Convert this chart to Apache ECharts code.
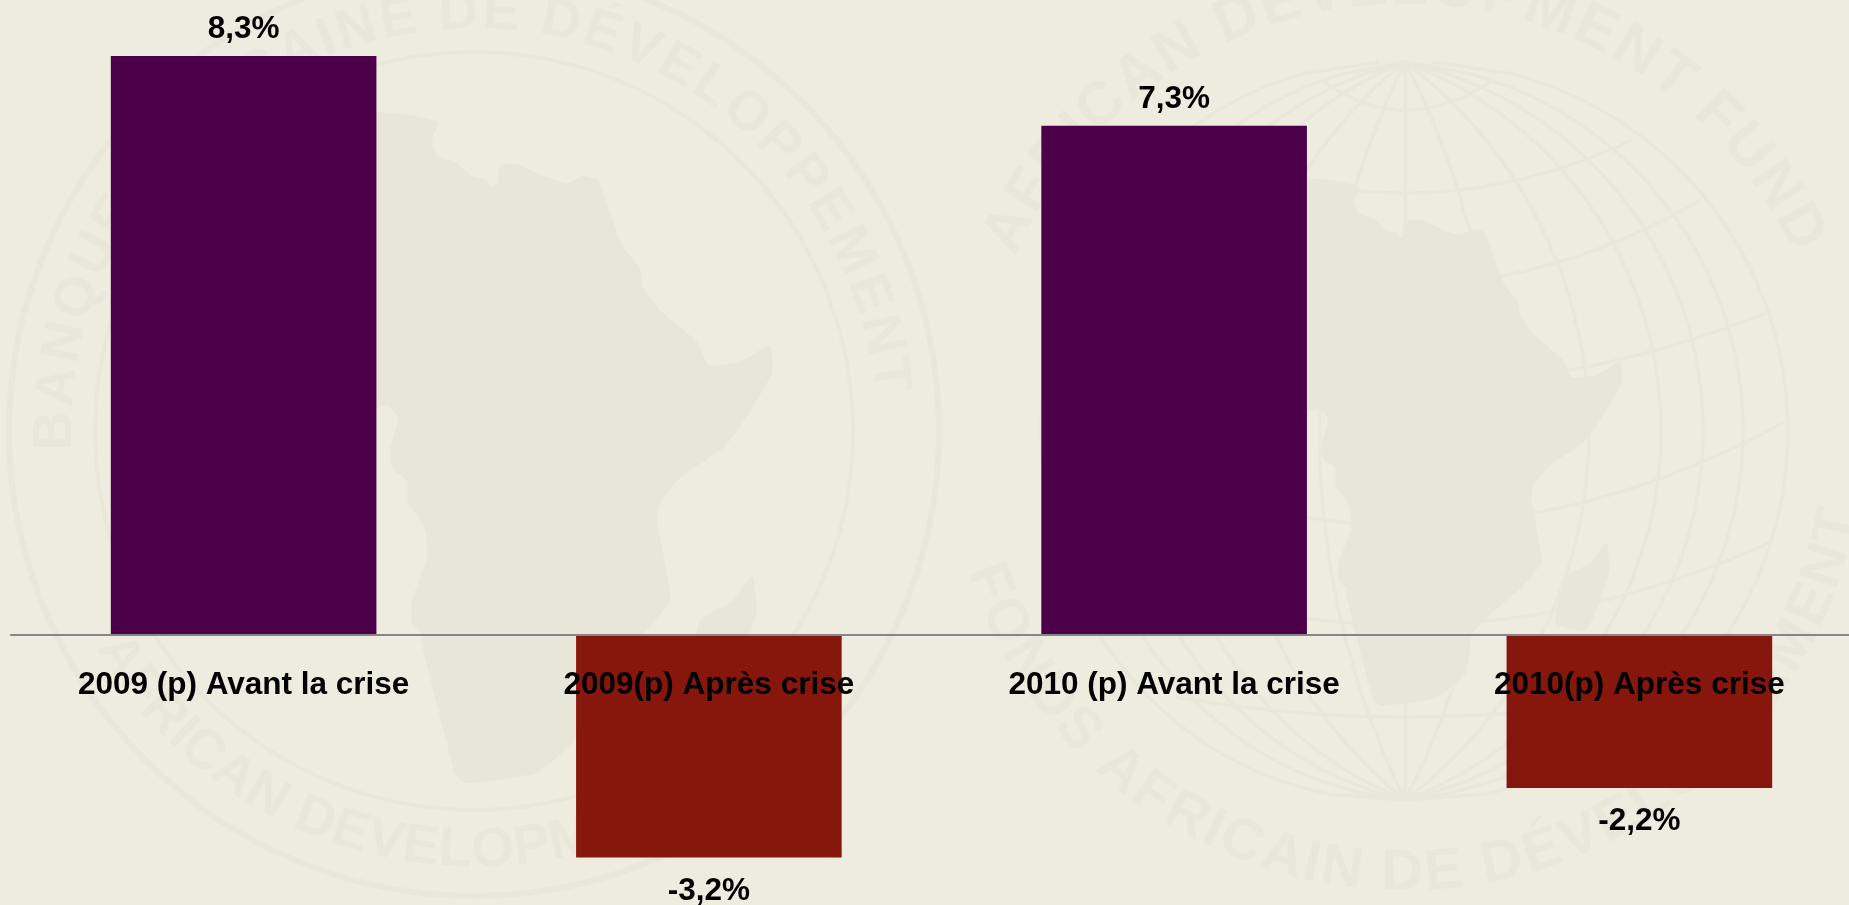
<!DOCTYPE html>
<html lang="fr">
<head>
<meta charset="utf-8">
<title>Croissance 2009-2010</title>
<style>
html, body { margin: 0; padding: 0; background: #EEECDF; overflow: hidden; }
#chart { width: 1849px; height: 905px; }
</style>
<script src="https://cdn.jsdelivr.net/npm/echarts@6/dist/echarts.min.js"></script>
</head>
<body>
<div id="chart"></div>
<script>
// Chart data
const categories = ['2009 (p) Avant la crise', '2009(p) Après crise', '2010 (p) Avant la crise', '2010(p) Après crise'];
const growthValues = [8.3, -3.2, 7.3, -2.2];

// Colours
const paperColor = '#EEECDF';
const sealColor = '#E9E7D9';
const landColor = '#E8E6D8';
const riseColor = '#4B0049';
const fallColor = '#87170C';
const labelFont = '"Liberation Sans", Arial, sans-serif';

// Africa outline used by both emblems
const africaOutline = [
  [377,112],[410,115],[438,122],[432,140],[437,155],[457,163],[473,177],[487,180],[490,187],[498,183],
  [500,165],[517,164],[543,176],[567,183],[583,176],[598,180],[610,213],[623,247],[640,268],[643,287],
  [660,310],[698,343],[708,365],[740,362],[770,345],[772,373],[740,427],[723,448],[680,478],[660,503],
  [657,519],[670,600],[642,635],[612,660],[582,692],[574,740],[536,773],[465,783],[455,773],[421,640],
  [424,635],[412,623],[412,600],[427,560],[427,540],[423,523],[408,503],[407,480],[393,470],[390,450],
  [398,417],[387,405],[377,408],[290,400],[200,370],[150,320],[200,230],[300,130]
];
const madagascarOutline = [[752,576],[757,610],[745,648],[727,687],[688,678],[701,619],[733,601]];

// Globe construction: meridian bulges and parallels as [centre y, half width, end y]
const globeCentre = [1405, 431];
const globeRadiusY = 369;
const globeLeftSquash = 0.95;
const meridianBulges = [0, 90, 184, 256, 298, 338, 383];
const parallels = [
  [110, 88, 80], [193, 227, 140], [285, 296, 200], [385, 361, 313],
  [525, 378, 423], [625, 364, 543], [717, 242, 697]
];

const graphics = [];

function strokeLine(points, width) {
  graphics.push({
    type: 'polyline', silent: true, z: 0,
    shape: { points: points },
    style: { stroke: sealColor, lineWidth: width, fill: null }
  });
}

function addRing(cx, cy, r, width) {
  graphics.push({
    type: 'circle', silent: true, z: 0,
    shape: { cx: cx, cy: cy, r: r },
    style: { stroke: sealColor, lineWidth: width, fill: null }
  });
}

function addLand(scale, dx, dy) {
  [africaOutline, madagascarOutline].forEach(function (outline) {
    graphics.push({
      type: 'polygon', silent: true, z: 1,
      shape: {
        points: outline.map(function (p) { return [p[0] * scale + dx, p[1] * scale + dy]; }),
        smooth: 0.15
      },
      style: { fill: landColor }
    });
  });
}

// Letters set along a circle; widths are measured so the spacing follows the glyphs
const ruler = document.createElement('canvas').getContext('2d');
function addArcText(text, cx, cy, r, fromDeg, toDeg, size) {
  const font = 'bold ' + size + 'px ' + labelFont;
  ruler.font = font;
  const chars = Array.from(text);
  const widths = chars.map(function (c) { return ruler.measureText(c).width; });
  const lower = toDeg < fromDeg;
  let total = 0;
  for (let i = 0; i < chars.length - 1; i++) { total += (widths[i] + widths[i + 1]) / 2; }
  let run = 0;
  chars.forEach(function (c, i) {
    if (i > 0) { run += (widths[i - 1] + widths[i]) / 2; }
    const deg = fromDeg + (toDeg - fromDeg) * run / total;
    const rad = deg * Math.PI / 180;
    const turn = lower ? deg - 90 : deg + 90;
    if (c === ' ') { return; }
    graphics.push({
      type: 'text', silent: true, z: 1,
      x: cx + r * Math.cos(rad),
      y: cy + r * Math.sin(rad),
      rotation: -turn * Math.PI / 180,
      style: { text: c, x: 0, y: 0, align: 'center', verticalAlign: 'middle', font: font, fill: sealColor }
    });
  });
}

function buildGlobe() {
  const cx = globeCentre[0], cy = globeCentre[1], h = globeRadiusY;
  meridianBulges.forEach(function (b) {
    [1, -globeLeftSquash].forEach(function (side) {
      if (b === 0 && side < 0) { return; }
      const pts = [];
      for (let d = -h; d <= h; d += 12) {
        let off = 0;
        if (b > 0) {
          const rho = (h * h + b * b) / (2 * b);
          off = b - rho + Math.sqrt(rho * rho - d * d);
        }
        pts.push([cx + side * off, cy + d]);
      }
      pts.push([cx, cy + h]);
      strokeLine(pts, 3.5);
    });
  });
  parallels.forEach(function (row) {
    const pts = [];
    for (let t = -1; t <= 1.0001; t += 0.05) {
      const reach = t < 0 ? globeLeftSquash : 1;
      pts.push([cx + t * row[1] * reach, row[0] + (row[2] - row[0]) * t * t]);
    }
    strokeLine(pts, 3.5);
  });
}

// Left emblem
addRing(474, 431, 465, 6);
addRing(474, 431, 379, 4);
addLand(1, 0, 0);
addArcText('BANQUE AFRICAINE DE DÉVELOPPEMENT', 474, 431, 418, -180, -7.6, 55);
addArcText('AFRICAN DEVELOPMENT BANK', 474, 431, 420, 147.5, 38, 55);

// Right emblem
buildGlobe();
addLand(0.785, 1015.5, 91);
addArcText('AFRICAN DEVELOPMENT FUND', 1405, 431, 444, -153, -27.3, 60);
addArcText('FONDS AFRICAIN DE DÉVELOPPEMENT', 1405, 431, 443, 160, 12.5, 58);

const chart = echarts.init(document.getElementById('chart'), null, { renderer: 'canvas' });

chart.setOption({
  animation: false,
  backgroundColor: paperColor,
  graphic: { elements: graphics },
  grid: { left: 11, top: 7.25, width: 1861, height: 871.25, containLabel: false, outerBoundsMode: 'none' },
  xAxis: {
    type: 'category',
    data: categories,
    z: 5,
    position: 'bottom',
    // Line and labels sit on the zero level of the value axis
    offset: -244,
    axisLine: { show: true, onZero: false, lineStyle: { color: '#868686', width: 2 } },
    axisTick: { show: false },
    axisLabel: {
      interval: 0,
      margin: 34.5,
      color: '#000000',
      fontFamily: labelFont,
      fontWeight: 'bold',
      fontSize: 31.5
    }
  },
  yAxis: {
    type: 'value',
    show: false,
    min: -3.5,
    max: 9,
    splitLine: { show: false }
  },
  series: [{
    type: 'bar',
    z: 2,
    barWidth: 265.6,
    data: growthValues.map(function (v) {
      return {
        value: v,
        itemStyle: { color: v < 0 ? fallColor : riseColor },
        label: { distance: v < 0 ? 17.5 : 10.5 }
      };
    }),
    label: {
      show: true,
      position: 'outside',
      color: '#000000',
      fontFamily: labelFont,
      fontWeight: 'bold',
      fontSize: 31.5,
      formatter: function (p) { return String(p.value).replace('.', ',') + '%'; }
    }
  }]
});
</script>
</body>
</html>
